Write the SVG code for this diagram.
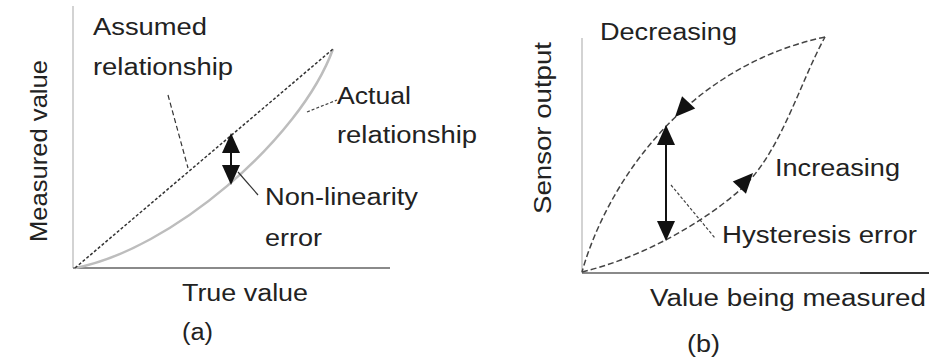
<svg xmlns="http://www.w3.org/2000/svg" xmlns:xlink="http://www.w3.org/1999/xlink" width="929" height="360" viewBox="0 0 929 360">
<style>
  text { font-family: "Liberation Sans", Arial, sans-serif; font-size: 23px; fill: #222; }
  .rot { font-size: 24px; text-anchor: middle; }
  .vaxis { stroke: #c4c4c4; stroke-width: 1.5; fill: none; }
  .haxis { stroke: #8a8a8a; stroke-width: 2; fill: none; }
  .dotline { stroke: #333; stroke-width: 1.5; stroke-dasharray: 3 2; fill: none; }
  .actual { stroke: #bdbdbd; stroke-width: 2.5; fill: none; }
  .loop { stroke: #444; stroke-width: 1.5; stroke-dasharray: 6 3; fill: none; }
  .leader { stroke: #333; stroke-width: 1.2; stroke-dasharray: 5 3; fill: none; }
  .leader2 { stroke: #444; stroke-width: 1.2; stroke-dasharray: 3 2; fill: none; }
  .solidlead { stroke: #333; stroke-width: 1.2; fill: none; }
  .shaft { stroke: #111; stroke-width: 2; fill: none; }
  .head { fill: #111; }
</style>
<defs>
  <path id="ah" d="M0,0 L-20,-9 L-20,9 Z"/>
</defs>
<rect width="929" height="360" fill="#ffffff"/>

<g id="panel-a">
  <g id="axes-a">
    <line class="vaxis" x1="73" y1="6" x2="73" y2="268"/>
    <line class="haxis" x1="73" y1="268" x2="390" y2="268"/>
  </g>
  <g id="connectors-a">
    <path id="actual-curve" class="actual" d="M75,268 C170,250 300,140 333,49"/>
    <line id="assumed-line" class="dotline" x1="75" y1="268" x2="333" y2="49"/>
    <line id="assumed-leader" class="leader" x1="168" y1="95" x2="188" y2="168"/>
    <line id="actual-leader" class="leader2" x1="307" y1="112" x2="337" y2="100"/>
    <line id="nonlin-leader" class="solidlead" x1="238" y1="172" x2="258" y2="195"/>
    <g id="nonlin-arrow">
      <line class="shaft" x1="231" y1="150" x2="231" y2="168"/>
      <use xlink:href="#ah" class="head" transform="translate(231,133) rotate(-90)"/>
      <use xlink:href="#ah" class="head" transform="translate(231,185) rotate(90)"/>
    </g>
  </g>
  <g id="label-assumed">
    <text x="93" y="35" textLength="114" lengthAdjust="spacingAndGlyphs">Assumed</text>
    <text x="93" y="75" textLength="140" lengthAdjust="spacingAndGlyphs">relationship</text>
  </g>
  <g id="label-actual">
    <text x="337" y="104" textLength="74" lengthAdjust="spacingAndGlyphs">Actual</text>
    <text x="337" y="143" textLength="140" lengthAdjust="spacingAndGlyphs">relationship</text>
  </g>
  <g id="label-nonlinearity">
    <text x="265" y="205" textLength="153" lengthAdjust="spacingAndGlyphs">Non-linearity</text>
    <text x="265" y="246" textLength="57" lengthAdjust="spacingAndGlyphs">error</text>
  </g>
  <g id="label-true-value">
    <text x="182" y="301" textLength="126" lengthAdjust="spacingAndGlyphs">True value</text>
  </g>
  <g id="label-a">
    <text x="182" y="340" textLength="31" lengthAdjust="spacingAndGlyphs">(a)</text>
  </g>
  <g id="label-measured-value">
    <text class="rot" transform="translate(47,151) rotate(-90)" textLength="182" lengthAdjust="spacingAndGlyphs">Measured value</text>
  </g>
</g>

<g id="panel-b">
  <g id="axes-b">
    <line class="vaxis" x1="582" y1="38" x2="582" y2="273"/>
    <line class="haxis" x1="582" y1="273" x2="929" y2="273"/>
    <line x1="860" y1="273" x2="929" y2="273" stroke="#333" stroke-width="2"/>
  </g>
  <g id="connectors-b">
    <path id="decreasing-curve" class="loop" d="M825,37 C680,68 605,190 582,272"/>
    <path id="increasing-curve" class="loop" d="M582,272 C640,258 700,225 740,190 S800,82 825,37"/>
    <use xlink:href="#ah" class="head" transform="translate(675,117) rotate(133)"/>
    <use xlink:href="#ah" class="head" transform="translate(753,173) rotate(-47)"/>
    <line id="hysteresis-leader" class="leader2" x1="671" y1="185" x2="715" y2="238"/>
    <g id="hysteresis-arrow">
      <line class="shaft" x1="666" y1="140" x2="666" y2="225"/>
      <use xlink:href="#ah" class="head" transform="translate(666,125) rotate(-90)"/>
      <use xlink:href="#ah" class="head" transform="translate(666,241) rotate(90)"/>
    </g>
  </g>
  <g id="label-decreasing">
    <text x="600" y="40" textLength="137" lengthAdjust="spacingAndGlyphs">Decreasing</text>
  </g>
  <g id="label-increasing">
    <text x="775" y="176" textLength="125" lengthAdjust="spacingAndGlyphs">Increasing</text>
  </g>
  <g id="label-hysteresis">
    <text x="722" y="243" textLength="195" lengthAdjust="spacingAndGlyphs">Hysteresis error</text>
  </g>
  <g id="label-value-measured">
    <text x="650" y="306" textLength="276" lengthAdjust="spacingAndGlyphs">Value being measured</text>
  </g>
  <g id="label-b">
    <text x="687" y="352" textLength="33" lengthAdjust="spacingAndGlyphs">(b)</text>
  </g>
  <g id="label-sensor-output">
    <text class="rot" transform="translate(551,128) rotate(-90)" textLength="172" lengthAdjust="spacingAndGlyphs">Sensor output</text>
  </g>
</g>
</svg>
